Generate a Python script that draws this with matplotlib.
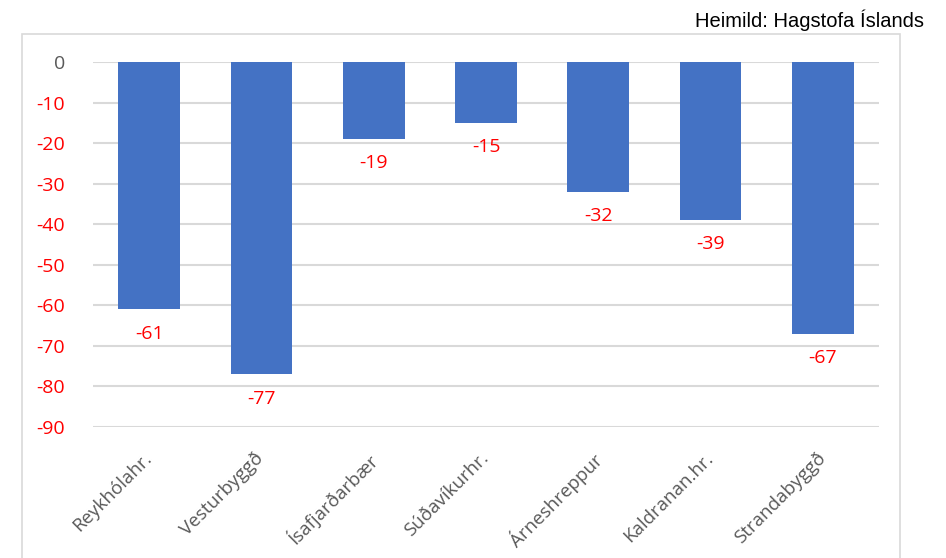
import matplotlib.pyplot as plt
from matplotlib.patches import Rectangle
from matplotlib.transforms import ScaledTranslation

# gögn
sveitarfelog = ["Reykhólahr.", "Vesturbyggð", "Ísafjarðarbær", "Súðavíkurhr.",
                "Árneshreppur", "Kaldranan.hr.", "Strandabyggð"]
breyting = [-61, -77, -19, -15, -32, -39, -67]
y_ticks = [0, -10, -20, -30, -40, -50, -60, -70, -80, -90]

plt.rcParams['font.family'] = ['Liberation Sans', 'DejaVu Sans']
letur = ['Open Sans', 'DejaVu Sans']

fig = plt.figure(figsize=(9.46, 5.58), dpi=100)
ax = fig.add_axes([93 / 946, 1 - 427 / 558, 786 / 946, 365 / 558])

# rammi utan um myndina
fig.patches.append(Rectangle((22 / 946, -0.05), 878 / 946, 1 - 34 / 558 + 0.05,
                             transform=fig.transFigure, fill=False,
                             edgecolor='#d9d9d9', linewidth=1.2))

x = range(len(sveitarfelog))
ax.bar(x, breyting, width=0.55, color='#4472c4', zorder=3)

for i, v in zip(x, breyting):
    ax.annotate(str(v), (i, v), xytext=(0, -11), textcoords='offset points',
                ha='center', va='top', color='#ff0000', fontsize=14, family=letur)

ax.set_ylim(-90, 0)
ax.set_xlim(-0.5, len(sveitarfelog) - 0.5)
ax.set_yticks(y_ticks)
ax.set_yticklabels([str(t) for t in y_ticks], fontsize=14, family=letur)
for lbl, t in zip(ax.get_yticklabels(), y_ticks):
    lbl.set_color('#595959' if t == 0 else '#ff0000')

# flokkaheiti undir ásnum, hallandi 45°
ax.set_xticks(list(x))
ax.set_xticklabels([])
faersla = ScaledTranslation(-7 / 100, -22 / 100, fig.dpi_scale_trans)
for i, nafn in zip(x, sveitarfelog):
    ax.text(i, 0, nafn, transform=ax.get_xaxis_transform() + faersla,
            rotation=45, ha='right', va='top', rotation_mode='anchor',
            fontsize=13.5, color='#595959', family=letur)
ax.tick_params(length=0)
ax.tick_params(axis='y', pad=20)

ax.grid(axis='y', color='#d9d9d9', linewidth=1.5, zorder=0)
for s in ax.spines.values():
    s.set_visible(False)

fig.text(924 / 946, 1 - 27 / 558, "Heimild: Hagstofa Íslands", ha='right', va='baseline',
         fontsize=14.5, color='black')

fig.savefig("out.png", dpi=100)
